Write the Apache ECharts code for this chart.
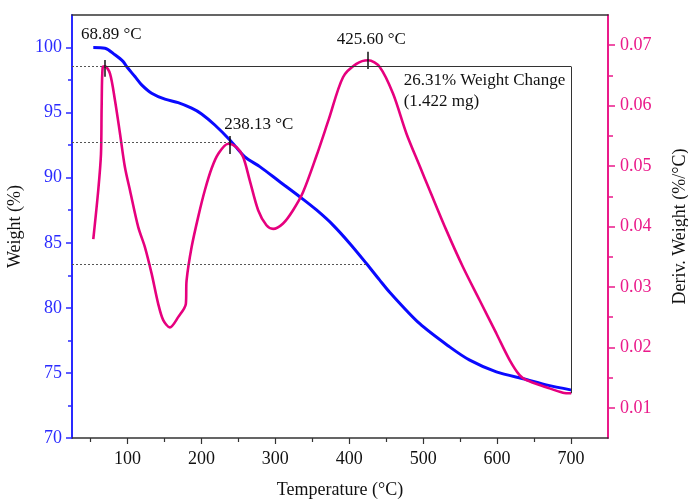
<!DOCTYPE html>
<html><head><meta charset="utf-8">
<script src="https://cdn.jsdelivr.net/npm/echarts@6/dist/echarts.min.js"></script>
<style>html,body{margin:0;padding:0;background:#fff}#c{width:688px;height:502px}</style>
</head><body><div id="c"></div>
<script>
// ---- data ----
const weightTemps  = [53.8, 69.6, 83.1, 94.3, 98.9, 110.1, 119.2, 132.7, 150.7, 168.6, 186.8, 200.3, 218.2, 238.5, 258.8, 279, 306, 333, 355.7, 378.1, 400.7, 423.2, 441.2, 454.7, 495, 535.8, 563, 599, 639.5, 666.5, 701];
const weightValues = [100.0, 99.95, 99.44, 98.92, 98.54, 97.77, 97.13, 96.49, 96.03, 95.77, 95.34, 94.9, 94.05, 92.9, 91.6, 90.85, 89.69, 88.54, 87.52, 86.36, 84.95, 83.41, 82.13, 81.2, 78.8, 77.0, 75.98, 75.08, 74.5, 74.08, 73.68];

const derivTemps  = [53.8, 60.5, 64.2, 65.1, 66.5, 69.6, 76.4, 83.1, 89.9, 96.6, 103.4, 114.6, 123.6, 132.7, 141.6, 148.4, 157.4, 168.6, 179, 180, 186.8, 195.7, 204.7, 213.8, 222.7, 236.2, 247.6, 256.5, 265.5, 276.8, 288, 297, 310.5, 324, 337.6, 355.7, 372.5, 391.6, 409.7, 425.6, 441.2, 459.2, 477.3, 495.3, 508.8, 531.3, 553.8, 576.4, 599, 617, 630.4, 639.5, 666.5, 689, 700.3];
const derivValues = [0.0379, 0.046, 0.052, 0.0598, 0.0664, 0.0665, 0.0653, 0.0609, 0.0554, 0.0498, 0.046, 0.0399, 0.0366, 0.0322, 0.0272, 0.0245, 0.0233, 0.025, 0.0272, 0.0311, 0.0366, 0.0416, 0.046, 0.0496, 0.052, 0.0537, 0.0531, 0.0515, 0.0476, 0.0427, 0.0402, 0.0396, 0.0405, 0.0427, 0.0457, 0.0517, 0.0578, 0.0647, 0.0669, 0.0675, 0.0664, 0.062, 0.0554, 0.05, 0.046, 0.0394, 0.0333, 0.0278, 0.0223, 0.0179, 0.0154, 0.0146, 0.0134, 0.0125, 0.0124];

const xTicks = [100, 200, 300, 400, 500, 600, 700];
const xMinorTicks = [50, 150, 250, 350, 450, 550, 650];
const leftTicks = [70, 75, 80, 85, 90, 95, 100];
const leftMinorTicks = [72.5, 77.5, 82.5, 87.5, 92.5, 97.5];
const rightTicks = [0.01, 0.02, 0.03, 0.04, 0.05, 0.06, 0.07];
const rightMinorTicks = [0.015, 0.025, 0.035, 0.045, 0.055, 0.065];

const peakTemps = [68.89, 238.13, 425.60];
const peakLabels = ['68.89 °C', '238.13 °C', '425.60 °C'];
const peakLevels = [98.54, 92.69, 83.36];       // weight levels for the dotted guides
const peakMarkTop = [99.05, 93.21, 99.67];
const peakMarkBottom = [97.75, 91.82, 98.36];
const stepTemp = 700;
const stepTop = 98.54;
const stepBottom = 73.44;
const stepLabels = ['26.31% Weight Change', '(1.422 mg)'];

// ---- styling ----
const FONT = 'Liberation Serif, Times New Roman, serif';
const BLUE = '#0a0aff';
const AXBLUE = '#2a2aff';
const PINK = '#e6007e';
const AXPINK = '#ea1a8a';
const DARK = '#333';

const zip = (a, b) => a.map((v, i) => [v, b[i]]);

const markData = [];
for (let i = 0; i < peakTemps.length; i++) {
  markData.push([{coord: [25, peakLevels[i]], lineStyle: {type: [2, 2], color: '#555', width: 1}}, {coord: [peakTemps[i], peakLevels[i]]}]);
  markData.push([{coord: [peakTemps[i], peakMarkTop[i]], lineStyle: {type: 'solid', color: '#111', width: 1.5}}, {coord: [peakTemps[i], peakMarkBottom[i]]}]);
}
markData.push([{coord: [peakTemps[0], stepTop], lineStyle: {type: 'solid', color: DARK, width: 1}}, {coord: [stepTemp, stepTop]}]);
markData.push([{coord: [stepTemp, stepTop], lineStyle: {type: 'solid', color: DARK, width: 1}}, {coord: [stepTemp, stepBottom]}]);

const chart = echarts.init(document.getElementById('c'), null, {renderer: 'canvas'});
const xCommon = {type: 'value', min: 25, max: 750, splitLine: {show: false}};
const option = {
  animation: false,
  backgroundColor: '#fff',
  grid: {left: 72, right: 80, top: 15, bottom: 64, containLabel: false, outerBoundsMode: 'none'},
  xAxis: [
    Object.assign({}, xCommon, {
      position: 'bottom',
      axisLine: {show: true, lineStyle: {color: DARK, width: 1.5}},
      axisTick: {show: true, customValues: xTicks, length: 6, lineStyle: {color: DARK, width: 1.2}},
      axisLabel: {customValues: xTicks, fontFamily: FONT, fontSize: 18, color: '#111', margin: 12},
      name: 'Temperature (°C)', nameLocation: 'middle', nameGap: 43,
      nameTextStyle: {fontFamily: FONT, fontSize: 18, color: '#111'}
    }),
    Object.assign({}, xCommon, {
      position: 'bottom',
      axisLine: {show: false},
      axisTick: {show: true, customValues: xMinorTicks, length: 4, lineStyle: {color: DARK, width: 1.2}},
      axisLabel: {show: false}
    }),
    Object.assign({}, xCommon, {
      position: 'top',
      axisLine: {show: true, lineStyle: {color: DARK, width: 1.5}},
      axisTick: {show: false}, axisLabel: {show: false}
    })
  ],
  yAxis: [
    {
      type: 'value', min: 70, max: 102.5, position: 'left', splitLine: {show: false},
      axisLine: {show: true, lineStyle: {color: AXBLUE, width: 2}},
      axisTick: {show: true, customValues: leftTicks, length: 6, lineStyle: {color: AXBLUE, width: 1.5}},
      axisLabel: {customValues: leftTicks, fontFamily: FONT, fontSize: 18, color: AXBLUE, margin: 10},
      name: 'Weight (%)', nameLocation: 'middle', nameGap: 43,
      nameTextStyle: {fontFamily: FONT, fontSize: 18, color: '#111'}
    },
    {
      type: 'value', min: 0.005, max: 0.075, position: 'right', splitLine: {show: false},
      axisLine: {show: true, lineStyle: {color: AXPINK, width: 2}},
      axisTick: {show: true, customValues: rightTicks, length: 7, lineStyle: {color: AXPINK, width: 1.5}},
      axisLabel: {customValues: rightTicks, fontFamily: FONT, fontSize: 18, color: AXPINK, margin: 12,
        formatter: v => Number(v).toFixed(2)},
      name: 'Deriv. Weight (%/°C)', nameLocation: 'middle', nameGap: 63,
      nameTextStyle: {fontFamily: FONT, fontSize: 18, color: '#111'}
    },
    {
      type: 'value', min: 70, max: 102.5, position: 'left', splitLine: {show: false},
      axisLine: {show: false},
      axisTick: {show: true, customValues: leftMinorTicks, length: 4, lineStyle: {color: AXBLUE, width: 1.5}},
      axisLabel: {show: false}
    },
    {
      type: 'value', min: 0.005, max: 0.075, position: 'right', splitLine: {show: false},
      axisLine: {show: false},
      axisTick: {show: true, customValues: rightMinorTicks, length: 5, lineStyle: {color: AXPINK, width: 1.5}},
      axisLabel: {show: false}
    }
  ],
  series: [
    {
      name: 'Weight', type: 'line', xAxisIndex: 0, yAxisIndex: 0,
      data: zip(weightTemps, weightValues),
      showSymbol: false, smooth: 0.3,
      lineStyle: {color: BLUE, width: 3}, z: 3,
      markLine: {silent: true, symbol: ['none', 'none'], label: {show: false},
        animation: false, data: markData}
    },
    {
      name: 'Deriv', type: 'line', xAxisIndex: 0, yAxisIndex: 1,
      data: zip(derivTemps, derivValues),
      showSymbol: false, smooth: 0.3,
      lineStyle: {color: PINK, width: 2.6}, z: 4
    }
  ]
};
chart.setOption(option);

// text annotations placed in data coordinates
const textSpecs = [
  {t: peakLabels[0], at: [78.1, 101.03], align: 'center'},
  {t: peakLabels[1], at: [277.7, 94.05], align: 'center'},
  {t: peakLabels[2], at: [429.9, 100.59], align: 'center'},
  {t: stepLabels[0], at: [473.6, 97.46], align: 'left'},
  {t: stepLabels[1], at: [473.6, 95.85], align: 'left'}
];
const graphics = textSpecs.map(s => {
  const p = chart.convertToPixel({xAxisIndex: 0, yAxisIndex: 0}, s.at);
  return {type: 'text', x: p[0], y: p[1], z: 10,
    style: {text: s.t, fill: '#111', font: '17px ' + FONT, textAlign: s.align, textVerticalAlign: 'middle'}};
});
chart.setOption({graphic: graphics});
</script>
</body></html>
